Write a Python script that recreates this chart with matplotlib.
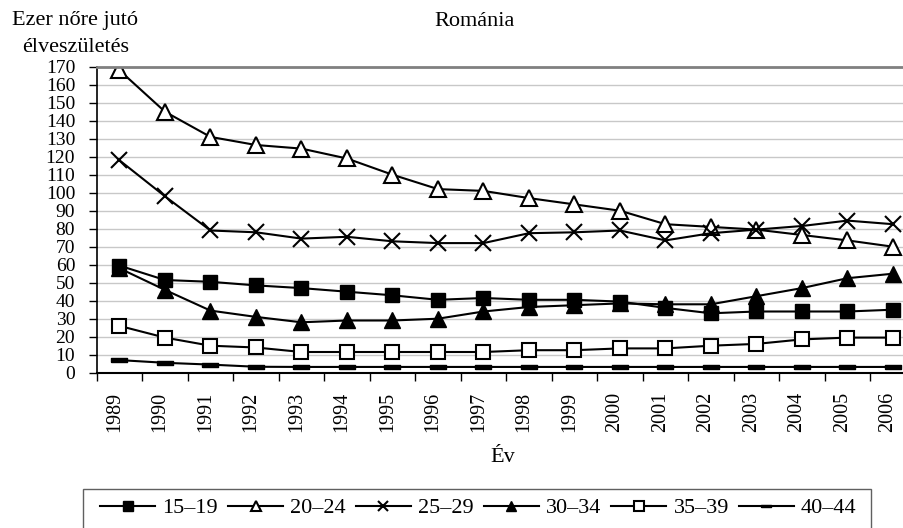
import numpy as np
import matplotlib
matplotlib.use("Agg")
import matplotlib.pyplot as plt
import matplotlib.transforms as mtransforms
from matplotlib.patches import Rectangle

plt.rcParams["font.family"] = ["Liberation Serif", "DejaVu Serif"]

years = [str(y) for y in range(1989, 2007)]
age_15_19 = [59.5, 51.5, 50.5, 48.5, 47, 45, 43, 40.5, 41.5, 40.5, 40.5, 39.5, 36, 33, 34, 34, 34, 35]
age_20_24 = [168, 145, 131, 126.5, 124.5, 119, 110, 102, 101, 97, 93.5, 90, 82.5, 81, 79.5, 76.5, 73.5, 70]
age_25_29 = [118, 98, 79, 78, 74.5, 75.5, 73, 72, 72, 77.5, 78, 79, 73.5, 77.5, 79.5, 81.5, 84.5, 82.5]
age_30_34 = [58, 46, 34.5, 31, 28, 29, 29, 30, 34, 36.5, 37.5, 38.5, 38, 38, 42.5, 47, 52.5, 55]
age_35_39 = [26, 19.5, 15, 14, 11.5, 11.5, 11.5, 11.5, 11.5, 12.5, 12.5, 13.5, 13.5, 15, 16, 18.5, 19.5, 19.5]
age_40_44 = [7, 5.5, 4.5, 3.3, 3.2, 3.2, 3.2, 3.2, 3.2, 3.2, 3.2, 3.2, 3.2, 3.2, 3.2, 3.2, 3.2, 3.2]

# flat bar marker for the 40-44 series
bar_marker = [(-1, -0.3), (1, -0.3), (1, 0.3), (-1, 0.3), (-1, -0.3)]

series = [
    ("15\u201319", age_15_19, dict(marker="s", mfc="black", ms=10)),
    ("20\u201324", age_20_24, dict(marker="^", mfc="white", ms=12, mew=1.5)),
    ("25\u201329", age_25_29, dict(marker="x", mfc="black", ms=12, mew=1.5)),
    ("30\u201334", age_30_34, dict(marker="^", mfc="black", ms=12)),
    ("35\u201339", age_35_39, dict(marker="s", mfc="white", ms=10, mew=1.5)),
    ("40\u201344", age_40_44, dict(marker=bar_marker, mfc="black", ms=11)),
]

fig = plt.figure(figsize=(9.04, 5.28), dpi=100)
ax = fig.add_axes([96.7 / 904, 1 - 372.7 / 528, 819 / 904, 306 / 528])

x = np.arange(len(years))
for label, vals, style in series:
    ax.plot(x, vals, color="black", lw=1.5, mec="black", label=label, **style)

ax.set_xlim(-0.5, len(years) - 0.5)
ax.set_ylim(0, 170)
ax.set_yticks(np.arange(0, 171, 10))
ax.yaxis.grid(True, color="#c8c8c8", lw=1)
ax.set_axisbelow(True)

ax.set_xticks(x)
ax.set_xticklabels(years, rotation=90, fontsize=14.5)
ax.set_xticks(np.arange(-0.5, len(years), 1), minor=True)
ax.tick_params(axis="x", which="major", length=0, pad=14)
ax.tick_params(axis="x", which="minor", length=6, width=1, direction="out")
ax.tick_params(axis="y", length=6, width=1, pad=9.5, labelsize=14)

# year labels sit a little left of the category centre in the original
shift = mtransforms.ScaledTranslation(-5 / 100, 0, fig.dpi_scale_trans)
for lbl in ax.get_xticklabels():
    lbl.set_transform(lbl.get_transform() + shift)

ax.spines["right"].set_visible(False)
ax.spines["top"].set_color("#808080")
ax.spines["top"].set_linewidth(2)
ax.spines["left"].set_linewidth(1.2)
ax.spines["bottom"].set_linewidth(1.5)

fig.text(12 / 904, 1 - 21 / 528, "Ezer nőre jutó", fontsize=16, va="center", ha="left")
fig.text(22 / 904, 1 - 47 / 528, "élveszületés", fontsize=16, va="center", ha="left")
fig.text(475 / 904, 1 - 22 / 528, "Románia", fontsize=16, va="center", ha="center")
fig.text(503 / 904, 1 - 458 / 528, "Év", fontsize=16, va="center", ha="center")

leg = fig.legend(loc="center left", bbox_to_anchor=(89 / 904, 1 - 508 / 528),
                 ncol=6, frameon=False, fontsize=16, borderpad=0,
                 handlelength=2.48, handletextpad=0.32, columnspacing=0.45,
                 markerscale=0.65)
for h in leg.legend_handles:
    h.set_linewidth(1.5)

fig.patches.append(Rectangle((83 / 904, -0.05), (871 - 83) / 904, 1 - 489 / 528 + 0.05,
                             transform=fig.transFigure, fill=False,
                             edgecolor="#606060", lw=1))

fig.savefig("out.png", dpi=100)
